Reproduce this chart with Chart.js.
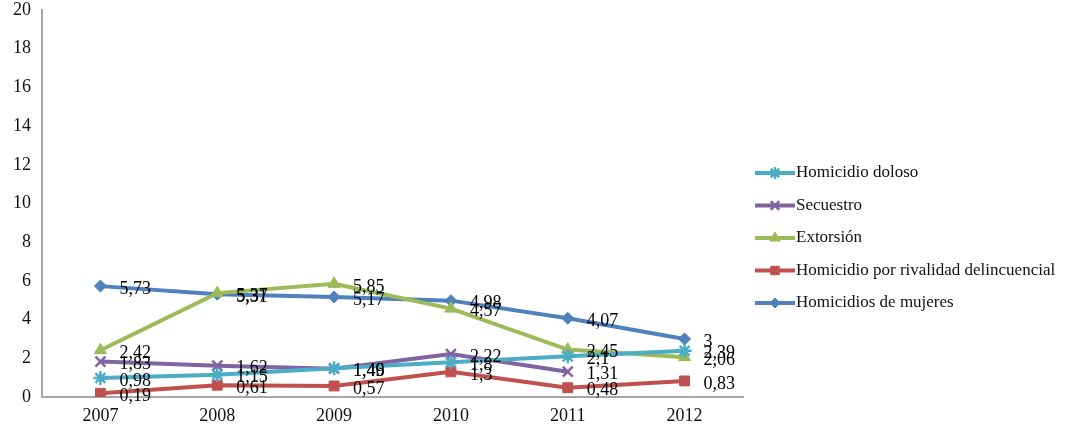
<!DOCTYPE html>
<html>
<head>
  <meta charset="utf-8">
  <style>
    body { margin: 0; background: #fff; }
    #wrap { width: 1092px; height: 437px; }
  </style>
  <script src="https://cdn.jsdelivr.net/npm/chart.js@4.4.1/dist/chart.umd.min.js"></script>
</head>
<body>
  <div id="wrap"><canvas id="myChart" width="1092" height="437"></canvas></div>
  <script>
    // datos
    var years = ['2007', '2008', '2009', '2010', '2011', '2012'];
    var homicidioDoloso = [0.98, 1.15, 1.49, 1.8, 2.1, 2.39];
    var secuestro = [1.83, 1.62, 1.46, 2.22, 1.31, null];
    var extorsion = [2.42, 5.37, 5.85, 4.57, 2.45, 2.06];
    var rivalidad = [0.19, 0.61, 0.57, 1.3, 0.48, 0.83];
    var mujeres = [5.73, 5.31, 5.17, 4.98, 4.07, 3];
    var yTicks = [0, 2, 4, 6, 8, 10, 12, 14, 16, 18, 20];

    var serif = "'Liberation Serif', 'DejaVu Serif', serif";

    function serie(label, data, color, style, radius) {
      return {
        label: label,
        data: data,
        borderColor: color,
        backgroundColor: color,
        borderWidth: 4,
        pointStyle: style,
        pointRadius: radius,
        pointBorderWidth: style == 'star' || style == 'crossRot' ? 2.5 : 1,
        pointBorderColor: color,
        pointBackgroundColor: color,
        tension: 0,
        spanGaps: false
      };
    }

    // etiquetas de valores a la derecha de cada punto
    var valueLabels = {
      id: 'valueLabels',
      afterDatasetsDraw: function(chart) {
        var ctx = chart.ctx;
        ctx.save();
        ctx.font = '18px ' + serif;
        ctx.fillStyle = '#000';
        ctx.textBaseline = 'middle';
        ctx.textAlign = 'left';
        chart.data.datasets.forEach(function(ds, i) {
          var meta = chart.getDatasetMeta(i);
          meta.data.forEach(function(pt, j) {
            var v = ds.data[j];
            if (v === null) return;
            ctx.fillText(String(v).replace('.', ','), pt.x + 19, pt.y + 3);
          });
        });
        ctx.restore();
      }
    };

    // leyenda dibujada a mano (línea con marcador)
    var sideLegend = {
      id: 'sideLegend',
      afterDraw: function(chart) {
        var ctx = chart.ctx;
        var x0 = 755, x1 = 795, y0 = 173, step = 32.5;
        ctx.save();
        chart.data.datasets.forEach(function(ds, i) {
          var y = y0 + i * step;
          ctx.strokeStyle = ds.borderColor;
          ctx.lineWidth = 4;
          ctx.beginPath();
          ctx.moveTo(x0, y);
          ctx.lineTo(x1, y);
          ctx.stroke();
          ctx.fillStyle = ds.borderColor;
          ctx.lineWidth = ds.pointBorderWidth;
          Chart.helpers.drawPoint(ctx, {
            pointStyle: ds.pointStyle,
            rotation: 0,
            radius: ds.pointRadius - 1,
            borderWidth: ds.pointBorderWidth
          }, (x0 + x1) / 2, y);
          ctx.fillStyle = '#111';
          ctx.font = '17px ' + serif;
          ctx.textBaseline = 'middle';
          ctx.textAlign = 'left';
          ctx.fillText(ds.label, x1 + 1, y);
        });
        ctx.restore();
      }
    };

    var ctx = document.getElementById('myChart').getContext('2d');
    var myChart = new Chart(ctx, {
      type: 'line',
      data: {
        labels: years,
        datasets: [
          serie('Homicidio doloso', homicidioDoloso, '#4BACC6', 'star', 7),
          serie('Secuestro', secuestro, '#8064A2', 'crossRot', 7),
          serie('Extorsión', extorsion, '#9BBB59', 'triangle', 7),
          serie('Homicidio por rivalidad delincuencial', rivalidad, '#C0504D', 'rect', 7),
          serie('Homicidios de mujeres', mujeres, '#4F81BD', 'rectRot', 6)
        ]
      },
      options: {
        responsive: false,
        animation: false,
        layout: { padding: { top: 10, right: 349, bottom: 0, left: 0 } },
        plugins: {
          legend: { display: false },
          tooltip: { enabled: false }
        },
        scales: {
          x: {
            offset: true,
            grid: { display: false, drawTicks: false, offset: true },
            border: { display: true, color: '#a6a6a6', width: 2 },
            ticks: { color: '#111', font: { family: serif, size: 18 }, padding: 8 },
            afterFit: function(scale) { scale.height = 40; }
          },
          y: {
            min: 0,
            max: 20,
            afterBuildTicks: function(scale) {
              scale.ticks = yTicks.map(function(v) { return { value: v }; });
            },
            grid: { display: false, drawTicks: false },
            border: { display: true, color: '#a6a6a6', width: 2 },
            ticks: { color: '#111', font: { family: serif, size: 18 }, padding: 11 },
            afterFit: function(scale) {
              scale.width = 42;
              scale.paddingTop = 0;
              scale.paddingBottom = 0;
            }
          }
        }
      },
      plugins: [valueLabels, sideLegend]
    });
  </script>
</body>
</html>
